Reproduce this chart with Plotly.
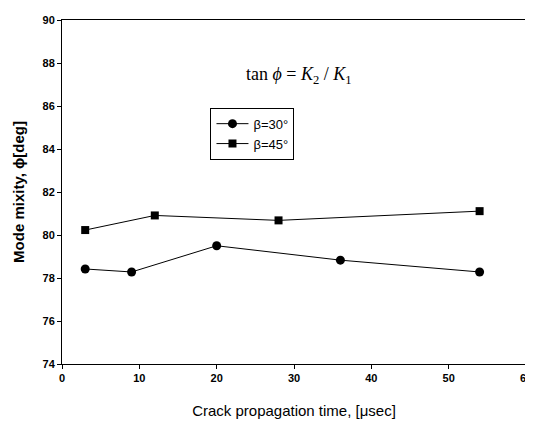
import plotly.graph_objects as go

t30 = [3, 9, 20, 36, 54]
phi30 = [78.42, 78.28, 79.5, 78.83, 78.28]
t45 = [3, 12, 28, 54]
phi45 = [80.23, 80.91, 80.68, 81.11]
name30 = "β=30°"
name45 = "β=45°"
xticks = [0, 10, 20, 30, 40, 50, 60]
yticks = [74, 76, 78, 80, 82, 84, 86, 88, 90]

fig = go.Figure()
fig.add_trace(go.Scatter(x=t30, y=phi30, name=name30, mode="lines+markers",
                         line=dict(color="black", width=1),
                         marker=dict(symbol="circle", size=9, color="black")))
fig.add_trace(go.Scatter(x=t45, y=phi45, name=name45, mode="lines+markers",
                         line=dict(color="black", width=1),
                         marker=dict(symbol="square", size=8, color="black")))

axis_common = dict(showgrid=False, zeroline=False, showline=True, linecolor="black",
                   linewidth=1, mirror=True, ticks="outside", ticklen=4,
                   tickcolor="black", automargin=False,
                   tickfont=dict(family="Arial", size=11, color="black"))

fig.update_xaxes(range=[0, 60], tickvals=xticks,
                 ticktext=["<b>%d</b>" % v for v in xticks],
                 title=dict(text="Crack propagation time, [μsec]",
                            font=dict(family="Arial", size=15, color="black"), standoff=22),
                 **axis_common)
fig.update_yaxes(range=[74, 90], tickvals=yticks,
                 ticktext=["<b>%d</b>" % v for v in yticks],
                 title=dict(text="<b>Mode mixity, ϕ[deg]</b>",
                            font=dict(family="Arial", size=15, color="black"), standoff=14),
                 **axis_common)

fig.add_annotation(x=0.51, y=0.84, xref="paper", yref="paper", yanchor="middle",
                   text="tan <i>ϕ</i> = <i>K</i><sub>2</sub> / <i>K</i><sub>1</sub>",
                   showarrow=False,
                   font=dict(family="Liberation Serif", size=18, color="black"))

fig.update_layout(
    width=525, height=417,
    margin=dict(l=54, r=7, t=12, b=61),
    paper_bgcolor="white", plot_bgcolor="white",
    legend=dict(x=0.32, y=0.745, xanchor="left", yanchor="top",
                bordercolor="black", borderwidth=1, bgcolor="white",
                font=dict(family="Arial", size=13, color="black"),
                tracegroupgap=0, itemwidth=32),
    showlegend=True,
)

fig.write_html("out.html")
